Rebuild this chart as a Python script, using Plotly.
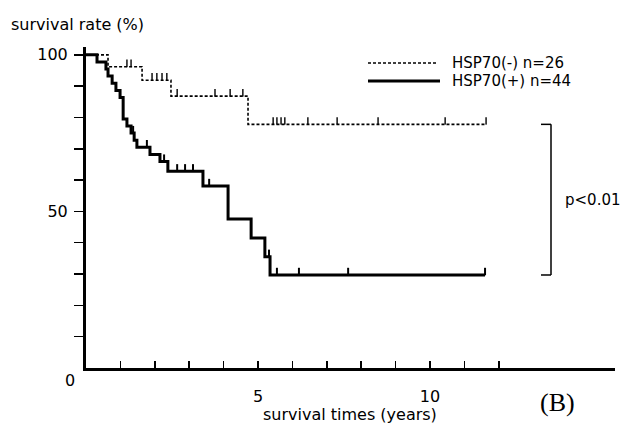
import plotly.graph_objects as go

# ---------------- data ----------------
# HSP70(+) n=44 : Kaplan-Meier step function (years, survival %)
pos_time = [0, 0.32, 0.58, 0.64, 0.76, 0.87, 0.99, 1.08, 1.19, 1.31, 1.40, 1.48,
            1.86, 2.15, 2.38, 3.40, 4.13, 4.80, 5.20, 5.35, 11.60]
pos_surv = [100, 97.7, 95.5, 93.2, 90.9, 88.6, 86.4, 79.5, 77.3, 75.0, 72.7, 70.5,
            68.2, 65.9, 62.8, 58.1, 47.6, 41.5, 35.5, 29.7, 29.7]
pos_cens = [1.37, 1.77, 2.27, 2.65, 2.88, 3.11, 3.58, 5.32, 5.55, 6.19, 7.62, 11.60]

# HSP70(-) n=26
neg_time = [0, 0.64, 1.63, 2.47, 4.71, 11.63]
neg_surv = [100, 96.2, 91.9, 86.8, 77.8, 77.8]
neg_cens = [1.19, 1.31, 1.92, 2.06, 2.21, 2.35, 2.65, 3.75, 4.19, 4.56,
            5.44, 5.55, 5.67, 5.78, 6.45, 7.30, 8.49, 10.44, 11.63]

series_names = ["HSP70(-) n=26", "HSP70(+) n=44"]
x_tick_vals = list(range(1, 13))
x_tick_text = ["" if v not in (5, 10) else str(v) for v in x_tick_vals]
y_tick_vals = list(range(10, 101, 10))
y_tick_text = [str(v) if v in (50, 100) else "" for v in y_tick_vals]
p_text = "p&lt;0.01"

FONT = "DejaVu Sans"


def level_at(times, surv, t):
    lvl = surv[0]
    for tt, s in zip(times, surv):
        if tt <= t:
            lvl = s
    return lvl


fig = go.Figure()

# curves
fig.add_trace(go.Scatter(x=neg_time, y=neg_surv, mode="lines", line_shape="hv",
                         line=dict(color="black", width=1.6, dash="3px,2px"),
                         showlegend=False, cliponaxis=False))
fig.add_trace(go.Scatter(x=pos_time, y=pos_surv, mode="lines", line_shape="hv",
                         line=dict(color="black", width=3),
                         showlegend=False, cliponaxis=False))

# censor ticks (upward marks)
for cens, times, surv, th in ((neg_cens, neg_time, neg_surv, 1.4),
                              (pos_cens, pos_time, pos_surv, 2.0)):
    ys = [level_at(times, surv, t) for t in cens]
    fig.add_trace(go.Scatter(
        x=cens, y=ys, mode="markers",
        marker=dict(size=1, color="black"),
        error_y=dict(type="data", symmetric=False, array=[2.3] * len(cens),
                     arrayminus=[0] * len(cens), width=0, thickness=th, color="black"),
        showlegend=False, cliponaxis=False))

# ---------------- layout ----------------
L, R, T, B = 86, 8, 47, 65
W, H = 623, 433
pw, ph = W - L - R, H - T - B
PX_PER_YEAR = 34.4


def px_x(px):
    return (px - L) / pw


def px_y(py):
    return (H - B - py) / ph


fig.update_layout(
    width=W, height=H,
    margin=dict(l=L, r=R, t=T, b=B),
    paper_bgcolor="white", plot_bgcolor="white",
    font=dict(family=FONT, size=15, color="black"),
    hovermode=False,
    xaxis=dict(range=[0, pw / PX_PER_YEAR], showgrid=False, zeroline=False,
               showline=True, linecolor="black", linewidth=3,
               ticks="inside", ticklen=7, tickwidth=1.5, tickcolor="black",
               tickvals=x_tick_vals, ticktext=x_tick_text,
               ticklabelstandoff=12, tickfont=dict(size=16)),
    yaxis=dict(range=[0, 102.5], showgrid=False, zeroline=False,
               showline=True, linecolor="black", linewidth=3,
               ticks="outside", ticklen=9, tickwidth=1.5, tickcolor="black",
               tickvals=y_tick_vals, ticktext=y_tick_text,
               ticklabelstandoff=3, tickfont=dict(size=16)),
)

# legend (drawn manually: long line samples)
leg_y = [px_y(63), px_y(81)]
fig.add_shape(type="line", xref="paper", yref="paper", x0=px_x(368), x1=px_x(438),
              y0=leg_y[0], y1=leg_y[0], line=dict(color="black", width=1.6, dash="3px,2px"))
fig.add_shape(type="line", xref="paper", yref="paper", x0=px_x(368), x1=px_x(440),
              y0=leg_y[1], y1=leg_y[1], line=dict(color="black", width=3))
for name, yy in zip(series_names, leg_y):
    fig.add_annotation(text=name, xref="paper", yref="paper", x=px_x(450), y=yy,
                       xanchor="left", yanchor="middle", showarrow=False,
                       font=dict(family=FONT, size=15))

# bracket between final levels
top_lvl = neg_surv[-1]
bot_lvl = pos_surv[-1]
bx = px_x(551)
bx0 = px_x(541)
fig.add_shape(type="line", xref="paper", yref="y", x0=bx, x1=bx, y0=bot_lvl, y1=top_lvl,
              line=dict(color="black", width=1.5))
for lv in (top_lvl, bot_lvl):
    fig.add_shape(type="line", xref="paper", yref="y", x0=bx0, x1=bx, y0=lv, y1=lv,
                  line=dict(color="black", width=1.5))
fig.add_annotation(text=p_text, xref="paper", yref="y", x=px_x(564),
                   y=(top_lvl + bot_lvl) / 2, xanchor="left", yanchor="middle",
                   showarrow=False, borderpad=0, font=dict(family=FONT, size=15))

# axis texts
fig.add_annotation(text="survival rate (%)", xref="paper", yref="paper",
                   x=px_x(9), y=px_y(24), xanchor="left", yanchor="middle",
                   showarrow=False, font=dict(family=FONT, size=16))
fig.add_annotation(text="0", xref="paper", yref="paper",
                   x=px_x(70), y=px_y(381), xanchor="center", yanchor="middle",
                   showarrow=False, font=dict(family=FONT, size=16))
fig.add_annotation(text="survival times (years)", xref="paper", yref="paper",
                   x=px_x(350), y=px_y(415), xanchor="center", yanchor="middle",
                   showarrow=False, font=dict(family=FONT, size=16))
fig.add_annotation(text="(B)", xref="paper", yref="paper",
                   x=px_x(557), y=px_y(402), xanchor="center", yanchor="middle",
                   showarrow=False, font=dict(family="Liberation Serif", size=26))

# the page's default body margin would shift the chart; remove it
fig.write_html("out.html", config={"displayModeBar": False, "staticPlot": True},
               post_script="document.body.style.margin='0';")
